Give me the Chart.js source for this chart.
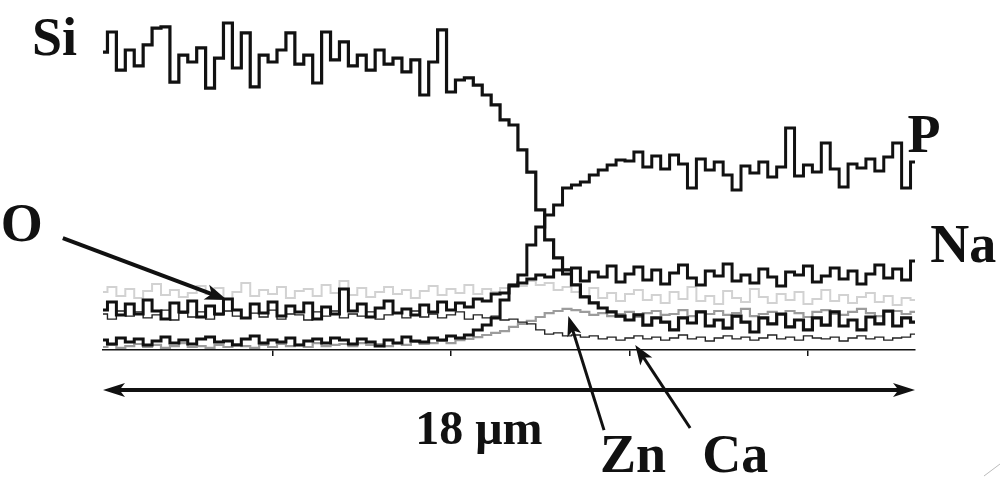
<!DOCTYPE html>
<html>
<head>
<meta charset="utf-8">
<script src="https://cdn.jsdelivr.net/npm/chart.js@4.4.1/dist/chart.umd.min.js"></script>
<style>
  html, body { margin: 0; padding: 0; background: #ffffff; }
  #wrap { width: 1000px; height: 482px; }
</style>
</head>
<body>
<div id="wrap"><canvas id="scan" width="1000" height="482"></canvas></div>
<script>
// line scan across the interface, 92 steps of 0.2 um
const stepCount = 92;
const xTickValues = [4, 8, 12, 16];

const siCounts = [
  99.3, 106.0, 93.3, 100.0, 94.7, 101.7, 107.3, 107.7, 89.3, 98.3,
  96.0, 100.7, 87.3, 97.3, 109.0, 94.0, 105.7, 87.7, 98.3, 96.0,
  100.0, 105.7, 95.3, 98.3, 89.0, 106.0, 96.7, 102.7, 94.7, 98.3,
  93.3, 100.0, 95.3, 97.3, 92.7, 96.7, 85.0, 96.0, 106.7, 86.0,
  90.0, 90.7, 88.3, 85.0, 81.7, 76.7, 75.0, 66.7, 59.3, 46.7,
  36.7, 30.7, 26.7, 21.7, 17.7, 15.7, 14.0, 12.7, 11.3, 10.0,
  11.7, 8.3, 10.7, 9.3, 6.7, 10.7, 9.0, 12.7, 8.0, 10.0,
  7.3, 11.3, 9.3, 6.0, 10.7, 8.7, 12.0, 7.7, 10.0, 6.7,
  10.7, 8.3, 12.7, 8.0, 10.0, 6.7, 11.0, 8.7, 13.0, 8.0,
  10.7, 9.3
];
const pCounts = [
  3.3, 2.0, 4.0, 2.7, 3.7, 1.7, 3.0, 4.3, 2.3, 3.3,
  2.0, 3.7, 4.3, 2.7, 3.0, 1.7, 3.7, 4.7, 2.3, 3.3,
  2.7, 4.0, 1.7, 3.0, 3.7, 2.3, 4.0, 3.3, 2.0, 3.7,
  2.7, 1.3, 3.3, 2.3, 4.3, 3.0, 2.7, 4.0, 3.3, 4.7,
  4.0, 5.0, 6.7, 8.3, 10.7, 16.7, 21.7, 25.0, 35.0, 41.0,
  45.0, 48.3, 54.0, 55.0, 56.0, 58.3, 60.0, 61.7, 63.3, 63.0,
  66.0, 61.0, 64.7, 60.3, 65.0, 62.0, 54.0, 63.7, 60.0, 62.7,
  58.3, 53.3, 61.3, 59.0, 62.7, 57.7, 61.0, 74.0, 58.0, 61.7,
  59.3, 69.0, 60.3, 54.3, 62.0, 60.7, 63.7, 59.7, 64.3, 69.0,
  54.0, 62.7
];
const naCounts = [
  13.3, 16.0, 11.7, 15.3, 12.0, 16.7, 13.0, 10.3, 15.7, 12.7,
  16.3, 11.0, 14.7, 12.0, 17.0, 13.3, 10.7, 15.3, 12.3, 16.0,
  11.3, 14.7, 12.7, 15.7, 10.3, 14.3, 12.0, 20.3, 13.0, 15.3,
  11.0, 14.0, 16.3, 12.3, 13.7, 11.7, 15.0, 12.7, 16.0, 13.3,
  15.7, 14.3, 17.0, 16.3, 18.7, 19.0, 21.3, 22.3, 23.7, 25.0,
  24.3, 26.7, 25.3, 27.3, 23.0, 26.0, 24.3, 28.0, 22.7, 25.3,
  27.7, 23.3, 26.7, 22.0, 25.7, 28.3, 24.0, 21.7, 26.3, 24.7,
  28.7, 23.0, 25.0, 22.3, 27.0, 24.3, 21.3, 26.0, 25.0, 28.0,
  22.7, 24.7, 27.3, 23.7, 26.3, 22.0, 25.3, 28.3, 24.0, 27.0,
  23.3, 29.7
];
const oCounts = [
  19.3, 21.0, 18.0, 20.3, 17.3, 19.7, 22.0, 18.3, 20.0, 17.7,
  19.0, 21.3, 18.7, 20.7, 17.0, 19.3, 22.3, 18.0, 20.0, 18.7,
  21.0, 17.3, 19.7, 20.3, 18.0, 21.7, 19.0, 23.0, 18.3, 20.7,
  17.7, 19.3, 21.0, 18.7, 20.0, 17.3, 19.7, 21.3, 18.3, 20.3,
  19.0, 21.7, 18.7, 20.3, 19.3, 20.7, 22.0, 21.3, 23.0, 21.7,
  22.3, 20.0, 21.0, 19.3, 18.0, 20.7, 17.3, 19.0, 16.3, 18.7,
  20.0, 16.7, 18.3, 15.7, 19.3, 17.0, 21.0, 16.3, 18.0, 15.3,
  19.7, 17.3, 16.0, 20.3, 17.7, 15.7, 18.7, 16.7, 19.3, 15.3,
  17.0, 20.0, 16.3, 18.3, 15.7, 17.7, 19.0, 16.0, 18.0, 15.0,
  17.3, 16.7
];
const znCounts = [
  1.0, 1.7, 0.7, 1.3, 2.0, 1.0, 1.7, 0.7, 1.3, 2.3,
  1.0, 1.3, 0.7, 1.7, 1.0, 2.0, 1.3, 0.7, 1.7, 1.0,
  2.0, 1.3, 1.7, 1.0, 2.3, 1.3, 1.7, 2.0, 1.3, 2.3,
  1.7, 2.0, 1.3, 2.3, 1.7, 2.7, 2.0, 2.3, 3.0, 2.3,
  3.3, 3.7, 4.3, 5.0, 5.7, 6.3, 7.7, 8.7, 9.7, 11.0,
  12.3, 13.0, 13.7, 13.3, 12.7, 11.7, 12.3, 11.3, 12.0, 12.7,
  11.0, 12.3, 13.0, 11.7, 12.0, 13.3, 11.3, 12.7, 12.0, 13.0,
  11.7, 12.3, 13.7, 11.3, 12.0, 12.7, 11.7, 13.0, 12.3, 11.0,
  12.7, 13.3, 12.0, 11.7, 12.7, 13.7, 12.3, 11.3, 12.7, 13.0,
  12.0, 12.7
];
const caCounts = [
  12.0, 10.3, 13.0, 11.3, 12.7, 10.7, 11.7, 13.3, 10.0, 12.3,
  11.0, 12.7, 10.3, 11.7, 13.0, 11.3, 10.7, 12.3, 11.0, 13.3,
  10.3, 12.0, 11.7, 10.0, 12.7, 11.3, 13.0, 10.7, 12.0, 11.3,
  12.7, 10.3, 11.7, 12.3, 10.7, 13.0, 11.0, 12.0, 10.7, 11.7,
  12.7, 10.3, 11.7, 10.7, 11.3, 10.0, 10.3, 9.3, 8.7, 6.7,
  5.3, 5.7, 4.7, 5.0, 4.3, 4.7, 3.7, 4.3, 3.3, 4.0,
  4.7, 3.7, 4.3, 3.3, 4.0, 5.0, 3.7, 4.3, 3.0, 4.0,
  4.7, 3.7, 4.3, 3.3, 4.0, 5.0, 3.7, 4.3, 3.3, 4.7,
  4.0, 3.7, 4.3, 3.0, 4.0, 4.7, 3.7, 4.3, 3.3, 4.0,
  4.3, 5.3
];

// distance of each step along the scan (um)
const distances = [];
for (let i = 0; i < stepCount; i++) distances.push(+(0.2 + i * 0.2).toFixed(1));

function points(values) {
  return values.map((v, i) => ({ x: distances[i], y: v }));
}

function trace(values, color, width) {
  return {
    data: points(values),
    borderColor: color,
    borderWidth: width,
    pointRadius: 0,
    stepped: 'middle',
    fill: false
  };
}

// labels and pointers, in data units
const serif = '"Liberation Serif", "DejaVu Serif", serif';
const notes = [
  { text: 'Si', x: -1.39, y: 98.3, size: 54 },
  { text: 'P', x: 18.23, y: 66.0, size: 54 },
  { text: 'O', x: -2.09, y: 36.3, size: 54 },
  { text: 'Na', x: 18.74, y: 29.3, size: 54 },
  { text: 'Zn', x: 11.34, y: -40.7, size: 54 },
  { text: 'Ca', x: 13.63, y: -40.7, size: 54 },
  { text: '18 \u03bcm', x: 7.2, y: -31.3, size: 48 }
];
const pointers = [
  { from: [-0.70, 37.3], to: [2.98, 16.7], width: 4, head: 22 },
  { from: [11.43, -26.7], to: [10.63, 11.3], width: 3, head: 20 },
  { from: [13.36, -26.0], to: [12.13, 1.7], width: 3, head: 20 }
];
const spanArrow = { from: 0.2, to: 18.4, y: -13.3 };

function arrowHead(ctx, x0, y0, x1, y1, len, half) {
  const a = Math.atan2(y1 - y0, x1 - x0);
  ctx.beginPath();
  ctx.moveTo(x1, y1);
  ctx.lineTo(x1 - len * Math.cos(a) + half * Math.sin(a), y1 - len * Math.sin(a) - half * Math.cos(a));
  ctx.lineTo(x1 - len * 0.75 * Math.cos(a), y1 - len * 0.75 * Math.sin(a));
  ctx.lineTo(x1 - len * Math.cos(a) - half * Math.sin(a), y1 - len * Math.sin(a) + half * Math.cos(a));
  ctx.closePath();
  ctx.fill();
}

const annotate = {
  id: 'annotate',
  afterDraw(chart) {
    const ctx = chart.ctx;
    const xs = chart.scales.x, ys = chart.scales.y;
    const px = v => xs.getPixelForValue(v);
    const py = v => ys.getPixelForValue(v);
    ctx.save();
    ctx.fillStyle = '#111';
    ctx.strokeStyle = '#111';
    ctx.textAlign = 'left';
    ctx.textBaseline = 'alphabetic';
    notes.forEach(n => {
      ctx.font = 'bold ' + n.size + 'px ' + serif;
      ctx.fillText(n.text, px(n.x), py(n.y));
    });
    ctx.lineCap = 'butt';
    pointers.forEach(p => {
      const x0 = px(p.from[0]), y0 = py(p.from[1]);
      const x1 = px(p.to[0]), y1 = py(p.to[1]);
      const a = Math.atan2(y1 - y0, x1 - x0);
      ctx.lineWidth = p.width;
      ctx.beginPath();
      ctx.moveTo(x0, y0);
      ctx.lineTo(x1 - p.head * 0.7 * Math.cos(a), y1 - p.head * 0.7 * Math.sin(a));
      ctx.stroke();
      arrowHead(ctx, x0, y0, x1, y1, p.head, p.head * 0.36);
    });
    // double-headed span arrow
    const sy = py(spanArrow.y);
    const sx0 = px(spanArrow.from), sx1 = px(spanArrow.to);
    ctx.lineWidth = 4;
    ctx.beginPath();
    ctx.moveTo(sx0 + 12, sy);
    ctx.lineTo(sx1 - 12, sy);
    ctx.stroke();
    arrowHead(ctx, sx1 - 40, sy, sx1, sy, 22, 7);
    arrowHead(ctx, sx0 + 40, sy, sx0, sy, 22, 7);
    // scan artefact in the corner
    ctx.strokeStyle = '#bbb';
    ctx.lineWidth = 1;
    ctx.beginPath();
    ctx.moveTo(984, 476);
    ctx.lineTo(1000, 464);
    ctx.stroke();
    ctx.restore();
  }
};

new Chart(document.getElementById('scan'), {
  type: 'line',
  data: {
    datasets: [
      trace(siCounts, '#111111', 3.2),
      trace(pCounts, '#111111', 3.0),
      trace(naCounts, '#111111', 3.0),
      trace(caCounts, '#222222', 1.4),
      trace(znCounts, '#9c9c9c', 2.2),
      trace(oCounts, '#d2d2d2', 2.0)
    ]
  },
  options: {
    responsive: false,
    animation: false,
    layout: { padding: { left: 103, right: 85, top: 20, bottom: 126 } },
    plugins: { legend: { display: false }, tooltip: { enabled: false } },
    scales: {
      x: {
        type: 'linear',
        min: 0.2,
        max: 18.4,
        afterBuildTicks: scale => { scale.ticks = xTickValues.map(v => ({ value: v })); },
        ticks: { display: false },
        grid: { drawOnChartArea: false, drawTicks: true, tickLength: 6, color: '#111', lineWidth: 1.5 },
        border: { display: true, color: '#111', width: 1.5 }
      },
      y: {
        display: false,
        min: 0,
        max: 110
      }
    }
  },
  plugins: [annotate]
});
</script>
</body>
</html>
